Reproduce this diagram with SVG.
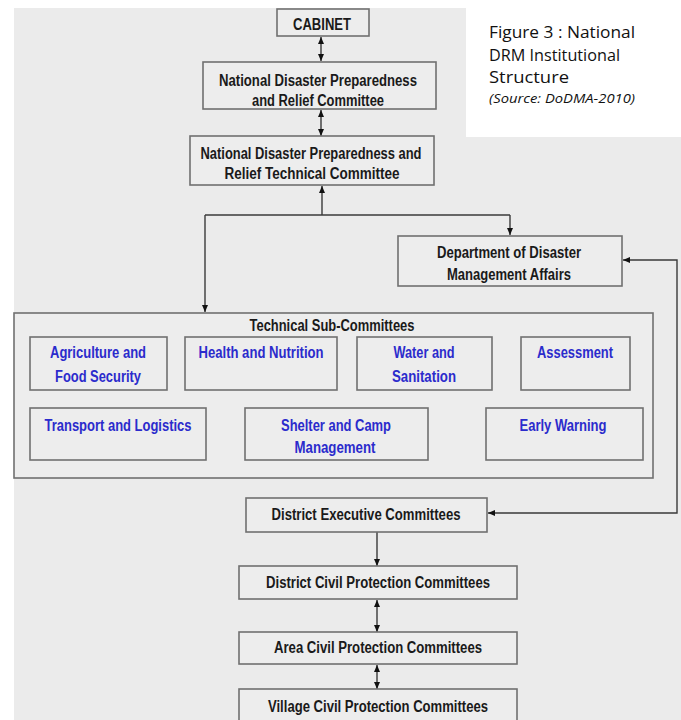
<svg xmlns="http://www.w3.org/2000/svg" width="681" height="720" viewBox="0 0 681 720">
<defs>
<style>
.bx{fill:#ededed;stroke:#707070;stroke-width:1.6}
.t{font-family:"Liberation Sans",Arial,sans-serif;font-weight:bold;font-size:16px;fill:#1a1a1a;text-anchor:middle}
.b{font-family:"Liberation Sans",Arial,sans-serif;font-weight:bold;font-size:16px;fill:#2b2bcc;text-anchor:middle}
.c{fill:none;stroke:#3a3a3a;stroke-width:1.4}
.cap{font-family:"Open Sans","Liberation Sans",sans-serif;font-size:17px;fill:#111}
</style>
<marker id="ah" viewBox="0 0 7 6" refX="7" refY="3" markerWidth="7" markerHeight="6" markerUnits="userSpaceOnUse" orient="auto-start-reverse">
<path d="M0,0 L7,3 L0,6 z" fill="#111"/>
</marker>
</defs>
<rect x="0" y="0" width="681" height="720" fill="#ffffff"/>
<rect x="14" y="8" width="667" height="712" fill="#ebebeb"/>
<rect x="466" y="0" width="215" height="137" fill="#ffffff"/>
<g id="caption">
<text class="cap" x="489" y="38" textLength="146" lengthAdjust="spacingAndGlyphs">Figure 3 : National</text>
<text class="cap" x="489" y="61" textLength="131" lengthAdjust="spacingAndGlyphs">DRM Institutional</text>
<text class="cap" x="489" y="83" textLength="80" lengthAdjust="spacingAndGlyphs">Structure</text>
<text class="cap" x="489" y="103" style="font-style:italic;font-size:13.5px" textLength="146" lengthAdjust="spacingAndGlyphs">(Source: DoDMA-2010)</text>
</g>
<g id="connectors">
<line class="c" x1="321" y1="37" x2="321" y2="61" marker-start="url(#ah)" marker-end="url(#ah)"/>
<line class="c" x1="321" y1="110" x2="321" y2="136" marker-start="url(#ah)" marker-end="url(#ah)"/>
<path class="c" d="M322,186 V215" marker-start="url(#ah)"/>
<path class="c" d="M205,215 H510"/>
<path class="c" d="M510,215 V235" marker-end="url(#ah)"/>
<path class="c" d="M205,215 V312" marker-end="url(#ah)"/>
<path class="c" d="M623,260 H677 V513 H488" marker-start="url(#ah)" marker-end="url(#ah)"/>
<line class="c" x1="377" y1="532" x2="377" y2="566" marker-end="url(#ah)"/>
<line class="c" x1="377" y1="600" x2="377" y2="632" marker-start="url(#ah)" marker-end="url(#ah)"/>
<line class="c" x1="377" y1="665" x2="377" y2="689" marker-start="url(#ah)" marker-end="url(#ah)"/>
</g>
<g id="cabinet">
<rect class="bx" x="277" y="9" width="92" height="27"/>
<text class="t" x="322" y="30" textLength="58" lengthAdjust="spacingAndGlyphs">CABINET</text>
</g>
<g id="ndprc">
<rect class="bx" x="203" y="62" width="233" height="47"/>
<text class="t" x="318" y="86" textLength="198" lengthAdjust="spacingAndGlyphs">National Disaster Preparedness</text>
<text class="t" x="318" y="106" textLength="132" lengthAdjust="spacingAndGlyphs">and Relief Committee</text>
</g>
<g id="ndprtc">
<rect class="bx" x="190" y="136" width="244" height="49"/>
<text class="t" x="311" y="159" textLength="221" lengthAdjust="spacingAndGlyphs">National Disaster Preparedness and</text>
<text class="t" x="312" y="179" textLength="175" lengthAdjust="spacingAndGlyphs">Relief Technical Committee</text>
</g>
<g id="dodma">
<rect class="bx" x="398" y="236" width="224" height="50"/>
<text class="t" x="509" y="258" textLength="144" lengthAdjust="spacingAndGlyphs">Department of Disaster</text>
<text class="t" x="509" y="280" textLength="124" lengthAdjust="spacingAndGlyphs">Management Affairs</text>
</g>
<g id="tsc">
<rect class="bx" x="14" y="313" width="639" height="165"/>
<text class="t" x="332" y="331" textLength="165" lengthAdjust="spacingAndGlyphs">Technical Sub-Committees</text>
</g>
<g id="agri">
<rect class="bx" x="30" y="337" width="137" height="53"/>
<text class="b" x="98" y="358" textLength="96" lengthAdjust="spacingAndGlyphs">Agriculture and</text>
<text class="b" x="98" y="382" textLength="86" lengthAdjust="spacingAndGlyphs">Food Security</text>
</g>
<g id="health">
<rect class="bx" x="185" y="337" width="152" height="53"/>
<text class="b" x="261" y="358" textLength="125" lengthAdjust="spacingAndGlyphs">Health and Nutrition</text>
</g>
<g id="water">
<rect class="bx" x="357" y="337" width="135" height="53"/>
<text class="b" x="424" y="358" textLength="61" lengthAdjust="spacingAndGlyphs">Water and</text>
<text class="b" x="424" y="382" textLength="64" lengthAdjust="spacingAndGlyphs">Sanitation</text>
</g>
<g id="assessment">
<rect class="bx" x="521" y="337" width="109" height="53"/>
<text class="b" x="575" y="358" textLength="76" lengthAdjust="spacingAndGlyphs">Assessment</text>
</g>
<g id="transport">
<rect class="bx" x="30" y="408" width="176" height="52"/>
<text class="b" x="118" y="431" textLength="147" lengthAdjust="spacingAndGlyphs">Transport and Logistics</text>
</g>
<g id="shelter">
<rect class="bx" x="245" y="408" width="183" height="52"/>
<text class="b" x="336" y="431" textLength="110" lengthAdjust="spacingAndGlyphs">Shelter and Camp</text>
<text class="b" x="335" y="453" textLength="81" lengthAdjust="spacingAndGlyphs">Management</text>
</g>
<g id="earlywarning">
<rect class="bx" x="486" y="408" width="157" height="52"/>
<text class="b" x="563" y="431" textLength="87" lengthAdjust="spacingAndGlyphs">Early Warning</text>
</g>
<g id="dec">
<rect class="bx" x="246" y="498" width="241" height="34"/>
<text class="t" x="366" y="520" textLength="189" lengthAdjust="spacingAndGlyphs">District Executive Committees</text>
</g>
<g id="dcpc">
<rect class="bx" x="239" y="566" width="278" height="33"/>
<text class="t" x="378" y="588" textLength="224" lengthAdjust="spacingAndGlyphs">District Civil Protection Committees</text>
</g>
<g id="acpc">
<rect class="bx" x="239" y="632" width="278" height="32"/>
<text class="t" x="378" y="653" textLength="208" lengthAdjust="spacingAndGlyphs">Area Civil Protection Committees</text>
</g>
<g id="vcpc">
<rect class="bx" x="239" y="689" width="278" height="34"/>
<text class="t" x="378" y="712" textLength="220" lengthAdjust="spacingAndGlyphs">Village Civil Protection Committees</text>
</g>
</svg>
